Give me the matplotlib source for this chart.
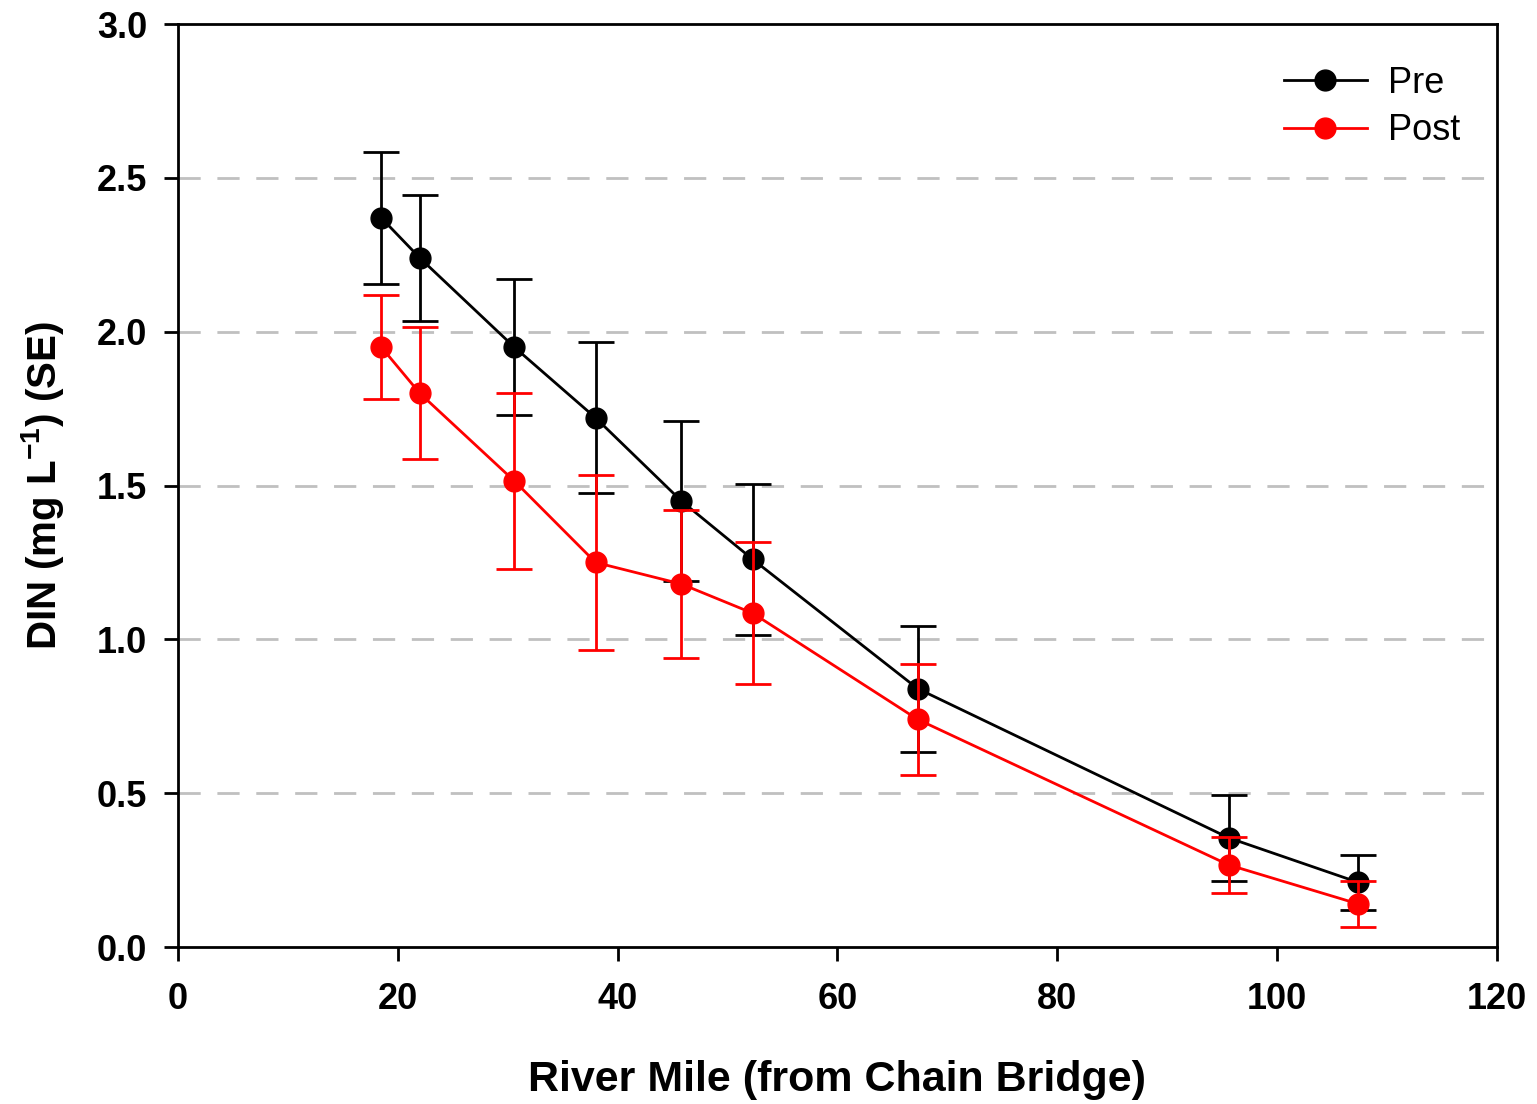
import numpy as np
import matplotlib
matplotlib.use('Agg')
import matplotlib.pyplot as plt

plt.rcParams['font.family'] = ['Liberation Sans', 'DejaVu Sans']
plt.rcParams['mathtext.fontset'] = 'custom'
plt.rcParams['mathtext.rm'] = 'Liberation Sans'
plt.rcParams['mathtext.bf'] = 'Liberation Sans:bold'

# River mile (from Chain Bridge)
river_mile = [18.5, 22.0, 30.6, 38.0, 45.8, 52.3, 67.3, 95.6, 107.4]

pre_mean = [2.37, 2.24, 1.95, 1.72, 1.45, 1.26, 0.84, 0.355, 0.21]
pre_se = [0.215, 0.205, 0.22, 0.245, 0.26, 0.245, 0.205, 0.14, 0.09]

post_mean = [1.95, 1.80, 1.515, 1.25, 1.18, 1.085, 0.74, 0.267, 0.14]
post_se = [0.17, 0.215, 0.285, 0.285, 0.24, 0.23, 0.18, 0.092, 0.075]

fig = plt.figure(figsize=(15.37, 11.04), dpi=100)
ax = fig.add_axes([0.1158, 0.1422, 0.858, 0.836])

for yv in [0.5, 1.0, 1.5, 2.0, 2.5]:
    ax.axhline(yv, color='#c0c0c0', lw=2, dashes=(8, 6), zorder=0)

ax.errorbar(river_mile, pre_mean, yerr=pre_se, color='black', lw=2, marker='o',
            ms=15, capsize=13, capthick=2, elinewidth=2, label='Pre', zorder=3)
ax.errorbar(river_mile, post_mean, yerr=post_se, color='#ff0000', lw=2, marker='o',
            ms=15, capsize=13, capthick=2, elinewidth=2, label='Post', zorder=4)

ax.set_xlim(0, 120)
ax.set_ylim(0, 3.0)
ax.set_xticks(np.arange(0, 121, 20))
ax.set_yticks(np.arange(0, 3.01, 0.5))
ax.set_yticklabels([f'{v:.1f}' for v in np.arange(0, 3.01, 0.5)])
ax.tick_params(direction='out', length=10, width=2, labelsize=26)
ax.tick_params(axis='x', pad=15)
ax.tick_params(axis='y', pad=12)
for lab in ax.get_xticklabels() + ax.get_yticklabels():
    lab.set_fontweight('bold')
for sp in ax.spines.values():
    sp.set_linewidth(2)

ax.set_xlabel('River Mile (from Chain Bridge)', fontsize=31, fontweight='bold', labelpad=31)
ax.set_ylabel(r'DIN (mg L$^{\mathbf{-1}}$) (SE)', fontsize=29, fontweight='bold', labelpad=22)

handles, labels = ax.get_legend_handles_labels()
handles = [h[0] for h in handles]
ax.legend(handles, labels, loc='upper right', bbox_to_anchor=(1.0, 0.994),
          frameon=False, fontsize=26, handlelength=2.3, handletextpad=0.6,
          borderaxespad=0.6, labelspacing=0.35)

fig.savefig('out.png', dpi=100)
